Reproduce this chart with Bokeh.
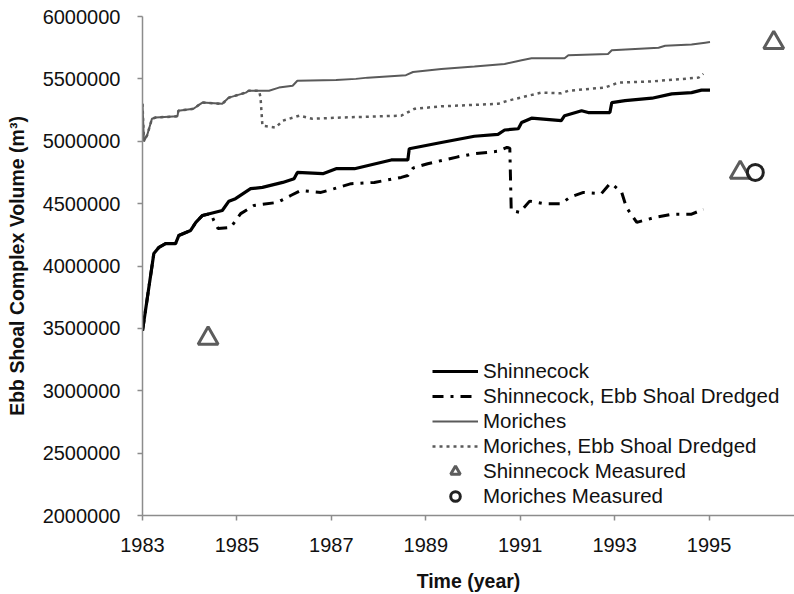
from bokeh.plotting import figure
from bokeh.models import Range1d, FixedTicker, BasicTickFormatter, Legend, LegendItem
from bokeh.embed import file_html
from bokeh.resources import INLINE

# ---- data ----
shin_x = [1983.00, 1983.24, 1983.35, 1983.49, 1983.70, 1983.77, 1984.02, 1984.13, 1984.27,
          1984.69, 1984.83, 1984.97, 1985.29, 1985.54, 1985.97, 1986.21, 1986.28, 1986.82,
          1987.10, 1987.49, 1988.27, 1988.62, 1988.65, 1989.33, 1990.03, 1990.53, 1990.67,
          1990.96, 1991.03, 1991.24, 1991.87, 1991.94, 1992.30, 1992.44, 1992.90, 1992.94,
          1993.22, 1993.79, 1994.21, 1994.63, 1994.84, 1995.02]
shin_y = [3480000, 4100000, 4150000, 4180000, 4180000, 4245000, 4285000, 4350000, 4405000,
          4445000, 4520000, 4540000, 4620000, 4630000, 4670000, 4700000, 4750000, 4740000,
          4780000, 4780000, 4850000, 4850000, 4940000, 4990000, 5040000, 5055000, 5090000,
          5100000, 5150000, 5185000, 5165000, 5205000, 5245000, 5230000, 5230000, 5310000,
          5325000, 5345000, 5380000, 5390000, 5410000, 5410000]

shin_dr_x = [1983.00, 1983.24, 1983.35, 1983.49, 1983.70, 1983.77, 1984.02, 1984.13, 1984.27,
             1984.45, 1984.51, 1984.60, 1984.87, 1985.08, 1985.36, 1985.86, 1986.14, 1986.35,
             1986.78, 1987.06, 1987.42, 1987.91, 1988.48, 1988.62, 1988.73, 1989.04, 1989.68,
             1990.03, 1990.53, 1990.72, 1990.78, 1990.81, 1990.99, 1991.20, 1991.49, 1991.87,
             1992.05, 1992.34, 1992.72, 1992.90, 1992.97, 1993.15, 1993.25, 1993.47, 1993.86,
             1994.21, 1994.63, 1994.88]
shin_dr_y = [3480000, 4100000, 4150000, 4180000, 4180000, 4245000, 4285000, 4350000, 4405000,
             4420000, 4365000, 4300000, 4310000, 4420000, 4485000, 4510000, 4565000, 4605000,
             4590000, 4620000, 4660000, 4670000, 4710000, 4725000, 4785000, 4820000, 4875000,
             4900000, 4920000, 4950000, 4945000, 4445000, 4430000, 4520000, 4500000, 4500000,
             4550000, 4590000, 4580000, 4660000, 4650000, 4590000, 4470000, 4350000, 4390000,
             4415000, 4415000, 4455000]

mor_x = [1983.00, 1983.03, 1983.10, 1983.20, 1983.28, 1983.74, 1983.76, 1984.08, 1984.17,
         1984.27, 1984.69, 1984.83, 1985.19, 1985.25, 1985.68, 1985.89, 1986.18, 1986.28,
         1987.10, 1987.52, 1987.77, 1988.58, 1988.73, 1989.33, 1990.03, 1990.67, 1991.03,
         1991.24, 1991.94, 1992.02, 1992.86, 1992.94, 1993.93, 1994.07, 1994.63, 1994.92,
         1995.02]
mor_y = [5300000, 5000000, 5050000, 5180000, 5190000, 5200000, 5245000, 5260000, 5285000,
         5310000, 5300000, 5350000, 5390000, 5405000, 5405000, 5430000, 5445000, 5485000,
         5490000, 5500000, 5510000, 5530000, 5555000, 5580000, 5600000, 5620000, 5650000,
         5665000, 5665000, 5690000, 5700000, 5730000, 5750000, 5765000, 5775000, 5790000,
         5795000]

mor_dr_x = [1983.00, 1983.03, 1983.10, 1983.20, 1983.28, 1983.74, 1983.76, 1984.08, 1984.17,
            1984.27, 1984.69, 1984.83, 1985.19, 1985.25, 1985.47, 1985.50, 1985.54, 1985.82,
            1985.97, 1986.32, 1986.60, 1987.20, 1988.48, 1988.76, 1989.33, 1990.53, 1990.74,
            1991.17, 1991.45, 1991.87, 1992.02, 1992.79, 1993.08, 1993.79, 1994.78, 1994.88]
mor_dr_y = [5300000, 5000000, 5050000, 5180000, 5190000, 5200000, 5245000, 5260000, 5285000,
            5310000, 5300000, 5350000, 5390000, 5405000, 5405000, 5350000, 5125000, 5110000,
            5165000, 5205000, 5180000, 5190000, 5205000, 5260000, 5280000, 5300000, 5325000,
            5365000, 5390000, 5385000, 5405000, 5430000, 5470000, 5480000, 5510000, 5540000]

shin_meas_x = [1984.39, 1995.66, 1996.37]
shin_meas_y = [3420000, 4750000, 5790000]
mor_meas_x = [1995.98]
mor_meas_y = [4750000]

x_ticks = [1983, 1985, 1987, 1989, 1991, 1993, 1995]
y_ticks = [2000000, 2500000, 3000000, 3500000, 4000000, 4500000, 5000000, 5500000, 6000000]

FONT = "Liberation Sans"

p = figure(width=794, height=594,
           x_range=Range1d(1983, 1996.81), y_range=Range1d(2000000, 6000000),
           output_backend="svg", toolbar_location=None,
           min_border_left=142, min_border_right=0, min_border_top=16, min_border_bottom=0)
p.background_fill_color = "white"
p.border_fill_color = "white"
p.outline_line_color = None
p.xgrid.visible = False
p.ygrid.visible = False

r_mor = p.line(mor_x, mor_y, line_color="#5a5a5a", line_width=2)
r_mor_dr = p.line(mor_dr_x, mor_dr_y, line_color="#5a5a5a", line_width=2.5, line_dash="3 4")
r_shin_dr = p.line(shin_dr_x, shin_dr_y, line_color="black", line_width=3, line_dash="11 7 3 7")
r_shin = p.line(shin_x, shin_y, line_color="black", line_width=3.2)
r_sm = p.scatter(shin_meas_x, shin_meas_y, marker="triangle", size=20, fill_color=None,
                 line_color="#5c5c5c", line_width=3)
r_mm = p.scatter(mor_meas_x, mor_meas_y, marker="circle", size=16, fill_color=None,
                 line_color="#222222", line_width=3)

for ax in (p.xaxis[0], p.yaxis[0]):
    ax.axis_line_color = "#8c8c8c"
    ax.axis_line_width = 1.5
    ax.major_tick_line_color = "#8c8c8c"
    ax.major_tick_line_width = 1.5
    ax.major_tick_out = 5
    ax.major_tick_in = 0
    ax.minor_tick_out = 0
    ax.minor_tick_in = 0
    ax.major_label_text_font = FONT
    ax.major_label_text_font_size = "20px"
    ax.major_label_text_color = "#111111"
    ax.axis_label_text_font = FONT
    ax.axis_label_text_font_size = "19.5px"
    ax.axis_label_text_font_style = "bold"
    ax.axis_label_text_color = "#111111"

p.xaxis.ticker = FixedTicker(ticks=x_ticks)
p.yaxis.ticker = FixedTicker(ticks=y_ticks)
p.yaxis.formatter = BasicTickFormatter(use_scientific=False)
p.xaxis.formatter = BasicTickFormatter(use_scientific=False)
p.xaxis.axis_label = "Time (year)"
p.yaxis.axis_label = "Ebb Shoal Complex Volume (m³)"
p.xaxis.major_label_standoff = 17
p.xaxis.axis_label_standoff = 15
p.yaxis.major_label_standoff = 17
p.yaxis.axis_label_standoff = 12

legend = Legend(items=[
    LegendItem(label="Shinnecock", renderers=[r_shin]),
    LegendItem(label="Shinnecock, Ebb Shoal Dredged", renderers=[r_shin_dr]),
    LegendItem(label="Moriches", renderers=[r_mor]),
    LegendItem(label="Moriches, Ebb Shoal Dredged", renderers=[r_mor_dr]),
    LegendItem(label="Shinnecock Measured", renderers=[r_sm]),
    LegendItem(label="Moriches Measured", renderers=[r_mm]),
], location=(290, 7))
legend.background_fill_alpha = 0
legend.border_line_alpha = 0
legend.padding = 0
legend.margin = 0
legend.spacing = 1
legend.glyph_width = 46
legend.glyph_height = 24
legend.label_height = 24
legend.label_standoff = 5
legend.label_text_font = FONT
legend.label_text_font_size = "20.5px"
legend.label_text_color = "#111111"
p.add_layout(legend)

open("out.html", "w").write(file_html(p, INLINE))
